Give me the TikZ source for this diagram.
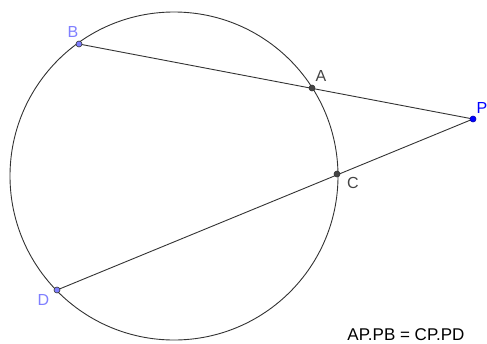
\documentclass[tikz,border=0pt]{standalone}
\usepackage{fontspec}
\setmainfont{Liberation Sans}
\definecolor{ptblue}{HTML}{0000FF}
\definecolor{ptlight}{HTML}{7F7FFF}
\definecolor{ptdark}{HTML}{444444}
\definecolor{linegray}{HTML}{333333}
\begin{document}
\begin{tikzpicture}[x=1pt,y=-1pt,
  seg/.style={draw=linegray,line width=0.9pt},
  pt/.style={circle,draw=black!80,line width=0.6pt,inner sep=0pt,minimum size=6pt},
  lbl/.style={inner sep=0pt,font=\fontsize{16}{16}\selectfont}]
\useasboundingbox (0,0) rectangle (487,343);
\draw[seg] (174,176) circle[radius=164];
\coordinate (B) at (79,44);
\coordinate (A) at (312,88);
\coordinate (P) at (473,119);
\coordinate (C) at (337,174);
\coordinate (D) at (57,290);
\draw[seg] (B) -- (P);
\draw[seg] (D) -- (P);
\node[pt,fill=ptlight] (nB) at (B) {};
\node[pt,fill=ptlight] (nD) at (D) {};
\node[pt,fill=ptdark] (nA) at (A) {};
\node[pt,fill=ptdark] (nC) at (C) {};
\node[pt,fill=ptblue,draw=ptblue!70!black] (nP) at (P) {};
\node[lbl,text=ptlight] (lB) at (73,31.5) {B};
\node[lbl,text=ptdark] (lA) at (321,76) {A};
\node[lbl,text=ptblue] (lP) at (482,107.5) {P};
\node[lbl,text=ptdark] (lC) at (353,182.5) {C};
\node[lbl,text=ptlight] (lD) at (43.5,300) {D};
\node[inner sep=0pt,font=\fontsize{17}{17}\selectfont] (eq) at (406,334.5) {AP.PB = CP.PD};
\end{tikzpicture}
\end{document}
